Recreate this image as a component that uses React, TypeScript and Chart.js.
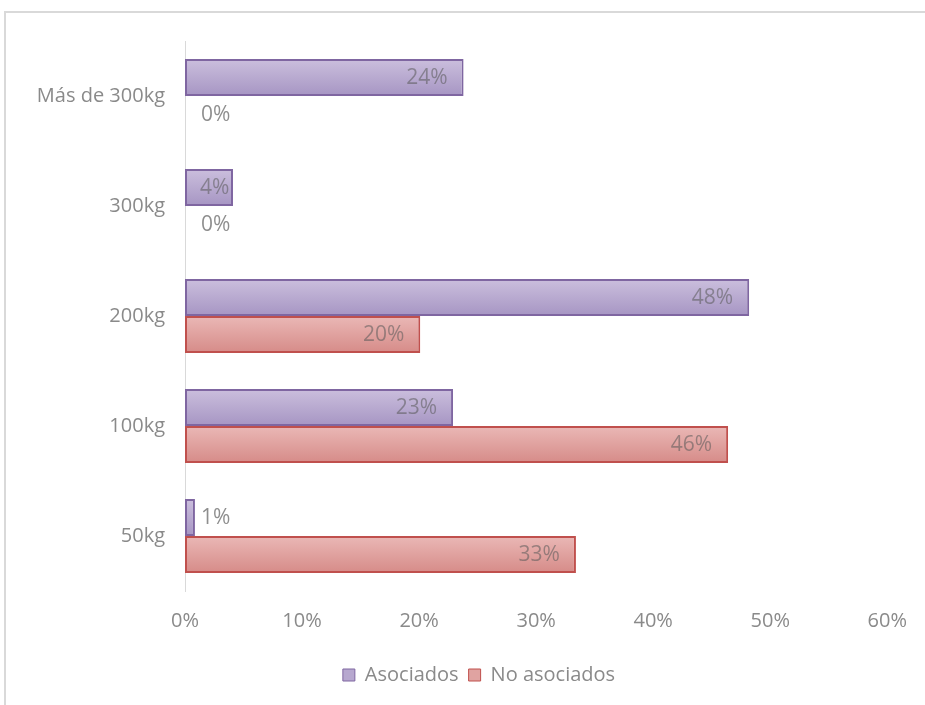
import React, { useEffect, useRef } from 'react';
import { Chart, registerables } from 'chart.js';

Chart.register(...registerables);

// ---- data ----
const categories = ['Más de 300kg', '300kg', '200kg', '100kg', '50kg'];
const seriesNames = ['Asociados', 'No asociados'];
const asociados = [23.8, 4.1, 48.2, 22.9, 0.85];
const noAsociados = [0, 0, 20.1, 46.4, 33.4];
const xTickMax = 60;
const xTickStep = 10;

// ---- styles ----
const FONT = "'Open Sans', sans-serif";
const TEXT = '#8a8a8a';
const GRADS: [string, string][] = [
  ['#cbbfdd', '#a695c3'],
  ['#eab8b6', '#d68b88'],
];
const FILLS = ['#b7a8cf', '#e0a3a1'];
const BORDERS = ['#7f66a1', '#c0504d'];

const framePlugin = {
  id: 'frame',
  beforeDraw(chart: any) {
    const ctx = chart.ctx;
    ctx.save();
    ctx.fillStyle = '#d9d9d9';
    ctx.fillRect(4, 11, chart.width - 4, 2);
    ctx.fillRect(4, 11, 2, chart.height - 11);
    ctx.restore();
  },
};

const legendShiftPlugin = {
  id: 'legendShift',
  afterLayout(chart: any) {
    const lg = chart.legend;
    if (lg) {
      lg.left += 70;
    }
  },
};

const gradientPlugin = {
  id: 'barGradient',
  beforeDatasetsDraw(chart: any) {
    const ctx = chart.ctx;
    chart.data.datasets.forEach((_ds: any, di: number) => {
      const meta = chart.getDatasetMeta(di);
      const [c1, c2] = GRADS[di];
      meta.data.forEach((el: any) => {
        const top = el.y - el.height / 2;
        const bottom = el.y + el.height / 2;
        const g = ctx.createLinearGradient(0, top, 0, bottom);
        g.addColorStop(0, c1);
        g.addColorStop(1, c2);
        el.options = Object.assign({}, el.options, { backgroundColor: g });
      });
    });
  },
};

const labelPlugin = {
  id: 'barLabels',
  afterDatasetsDraw(chart: any) {
    const ctx = chart.ctx;
    ctx.save();
    ctx.font = `21px ${FONT}`;
    ctx.textBaseline = 'middle';
    ctx.textAlign = 'left';
    chart.data.datasets.forEach((ds: any, di: number) => {
      const meta = chart.getDatasetMeta(di);
      meta.data.forEach((el: any, i: number) => {
        const v = ds.data[i] as number;
        const txt = Math.round(v) + '%';
        const w = ctx.measureText(txt).width;
        const x = el.x;
        const base = el.base;
        const y = el.y;
        const width = x - base;
        let left: number;
        if (width >= w + 12) {
          left = Math.max(x - 16 - w, base + 15);
          if (left + w > x - 3) left = x - 3 - w;
          ctx.fillStyle = 'rgba(89,89,89,0.55)';
        } else {
          left = Math.max(x + 6, base + 16);
          ctx.fillStyle = 'rgba(89,89,89,0.68)';
        }
        ctx.fillText(txt, left, y + 1);
      });
    });
    ctx.restore();
  },
};

export default function App() {
  const ref = useRef<HTMLCanvasElement | null>(null);

  useEffect(() => {
    if (!ref.current) return;
    const chart = new Chart(ref.current, {
      type: 'bar',
      data: {
        labels: categories,
        datasets: [
          {
            label: seriesNames[0],
            data: asociados,
            backgroundColor: FILLS[0],
            borderColor: BORDERS[0],
            borderWidth: 2,
            borderSkipped: false,
          },
          {
            label: seriesNames[1],
            data: noAsociados,
            backgroundColor: FILLS[1],
            borderColor: BORDERS[1],
            borderWidth: 2,
            borderSkipped: false,
          },
        ],
      },
      options: {
        indexAxis: 'y',
        responsive: false,
        animation: false,
        datasets: {
          bar: { categoryPercentage: 0.673, barPercentage: 1 },
        },
        layout: { padding: { left: 0, right: 37, top: 41, bottom: 10 } },
        scales: {
          y: {
            grid: { display: false, drawTicks: false },
            border: { display: true, color: '#d9d9d9', width: 1 },
            ticks: { font: { family: FONT, size: 20 }, color: TEXT, padding: 20 },
            afterFit: (s: any) => {
              s.width = 185;
            },
          },
          x: {
            min: 0,
            max: xTickMax,
            grid: { display: false, drawTicks: false },
            border: { display: false },
            ticks: {
              stepSize: xTickStep,
              font: { family: FONT, size: 20 },
              color: TEXT,
              padding: 18,
              callback: (v: any) => v + '%',
            },
            afterFit: (s: any) => {
              s.height = 64;
            },
          },
        },
        plugins: {
          legend: {
            position: 'bottom',
            labels: {
              font: { family: FONT, size: 20 },
              color: TEXT,
              boxWidth: 12,
              boxHeight: 12,
              padding: 10,
              generateLabels: (c: any) =>
                Chart.defaults.plugins.legend.labels
                  .generateLabels(c)
                  .map((l: any) => ({ ...l, lineWidth: 1 })),
            },
          },
          tooltip: { enabled: false },
        },
      },
      plugins: [framePlugin, legendShiftPlugin, gradientPlugin, labelPlugin],
    });
    return () => chart.destroy();
  }, []);

  return (
    <div style={{ position: 'absolute', left: 0, top: 0, width: 925, height: 705, overflow: 'hidden', background: '#fff' }}>
      <canvas ref={ref} width={925} height={705} style={{ display: 'block' }} />
    </div>
  );
}
